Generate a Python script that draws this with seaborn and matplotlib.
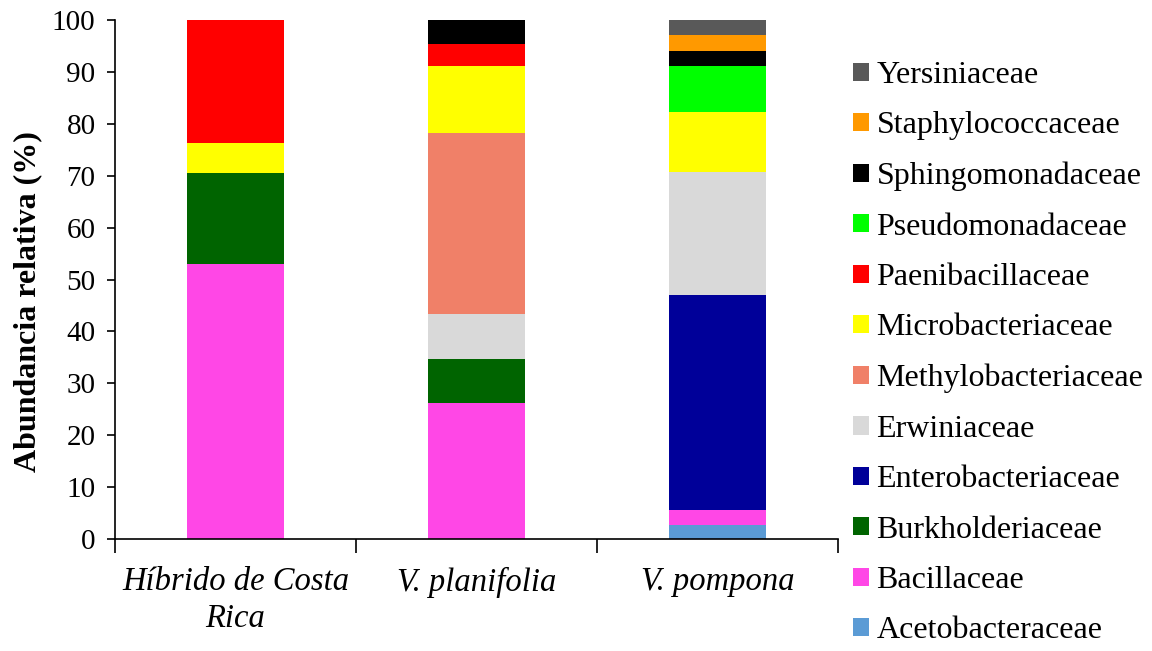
import numpy as np
import pandas as pd
import matplotlib
matplotlib.use("Agg")
import matplotlib.pyplot as plt
import seaborn as sns
from matplotlib.ticker import FixedLocator

# muestras (eje x)
muestras = ["Híbrido de Costa\nRica", "V. planifolia", "V. pompona"]

# familias en el orden de la leyenda (de arriba hacia abajo)
familias = ["Yersiniaceae", "Staphylococcaceae", "Sphingomonadaceae", "Pseudomonadaceae",
            "Paenibacillaceae", "Microbacteriaceae", "Methylobacteriaceae", "Erwiniaceae",
            "Enterobacteriaceae", "Burkholderiaceae", "Bacillaceae", "Acetobacteraceae"]

# abundancia relativa (%) por familia, una lista por muestra
yersiniaceae = [0, 0, 2.8]
staphylococcaceae = [0, 0, 3.1]
sphingomonadaceae = [0, 4.5, 3.0]
pseudomonadaceae = [0, 0, 8.8]
paenibacillaceae = [23.7, 4.4, 0]
microbacteriaceae = [5.8, 12.9, 11.6]
methylobacteriaceae = [0, 34.8, 0]
erwiniaceae = [0, 8.7, 23.7]
enterobacteriaceae = [0, 0, 41.5]
burkholderiaceae = [17.5, 8.5, 0]
bacillaceae = [53.0, 26.2, 2.8]
acetobacteraceae = [0, 0, 2.7]

colores = ["#595959", "#FF9900", "#000000", "#00FF00", "#FF0000", "#FFFF00",
           "#F08068", "#D9D9D9", "#000099", "#006400", "#FF47E6", "#5B9BD5"]

valores = [yersiniaceae, staphylococcaceae, sphingomonadaceae, pseudomonadaceae,
           paenibacillaceae, microbacteriaceae, methylobacteriaceae, erwiniaceae,
           enterobacteriaceae, burkholderiaceae, bacillaceae, acetobacteraceae]

filas = []
for fam, vals in zip(familias, valores):
    for m, v in zip(muestras, vals):
        filas.append({"muestra": m, "familia": fam, "abundancia": v})
df = pd.DataFrame(filas)
df["muestra"] = pd.Categorical(df["muestra"], categories=muestras, ordered=True)

sns.set_style("ticks")
plt.rcParams["font.family"] = ["Liberation Serif", "DejaVu Serif"]
plt.rcParams["text.color"] = "black"
plt.rcParams["xtick.color"] = "black"
plt.rcParams["ytick.color"] = "black"
plt.rcParams["axes.labelcolor"] = "black"

fig = plt.figure(figsize=(11.52, 6.51), dpi=100)
ax = fig.add_axes([0.0998, 0.172, 0.6276, 0.797])

sns.histplot(data=df, x="muestra", weights="abundancia", hue="familia",
             hue_order=familias, palette=colores, multiple="stack",
             discrete=True, shrink=0.4, linewidth=0, alpha=1, ax=ax, legend=True)

ax.set_xlim(-0.5, 2.5)
ax.set_ylim(0, 100)
ax.set_yticks(np.arange(0, 101, 10))
ax.tick_params(axis="y", labelsize=21, length=6, width=1.2, direction="out", pad=8)
ax.set_xticks(range(len(muestras)))
ax.set_xticklabels(muestras, fontsize=23.5, style="italic", linespacing=1.28)
ax.tick_params(axis="x", which="major", length=0, pad=20)
ax.xaxis.set_minor_locator(FixedLocator([-0.5, 0.5, 1.5, 2.5]))
ax.tick_params(axis="x", which="minor", length=10, width=1.2, direction="out")
ax.set_xlabel("")
ax.set_ylabel("Abundancia relativa (%)", fontsize=23, fontweight="bold")
ax.yaxis.set_label_coords(-0.1, 0.457)
sns.despine(ax=ax)
for s in ["left", "bottom"]:
    ax.spines[s].set_linewidth(1.2)
    ax.spines[s].set_color("black")

sns.move_legend(ax, loc="upper left", bbox_to_anchor=(0.729, 0.926),
                bbox_transform=fig.transFigure, frameon=False, title=None,
                fontsize=23, handlelength=0.5, handleheight=0.5,
                handletextpad=0.25, labelspacing=0.67, borderaxespad=0)

fig.savefig("out.png", dpi=100)
